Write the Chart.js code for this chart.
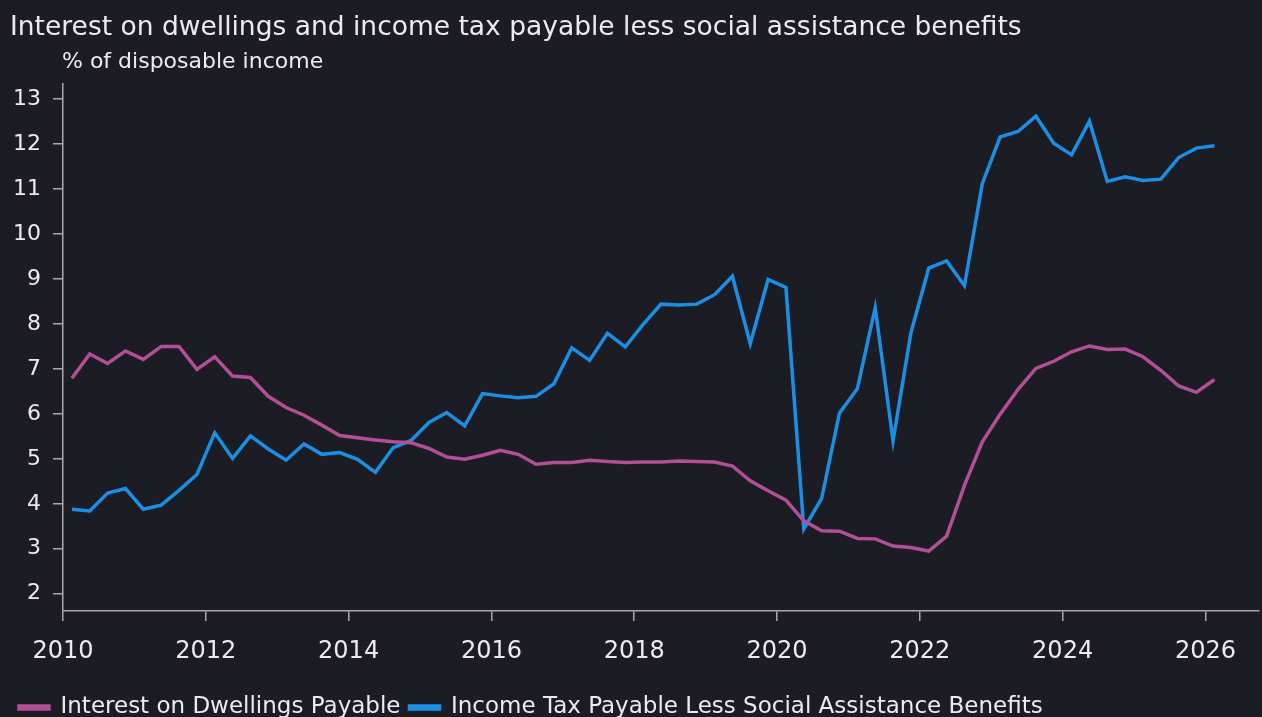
<!DOCTYPE html>
<html>
<head>
<meta charset="utf-8">
<script src="https://cdn.jsdelivr.net/npm/chart.js@4/dist/chart.umd.min.js"></script>
<style>
  html, body { margin: 0; padding: 0; background: #1c1c25; overflow: hidden; }
  #wrap { width: 1262px; height: 717px; overflow: hidden; }
</style>
</head>
<body>
<div id="wrap"><canvas id="chart" width="1262" height="729"></canvas></div>
<script>
// quarterly, 2010 Q1 .. 2026 Q1
const firstYear = 2010;
const quarterCount = 65;

const interestOnDwellings = [
  6.79, 7.33, 7.12, 7.40, 7.21, 7.50, 7.50, 6.99, 7.27, 6.84,
  6.81, 6.39, 6.14, 5.97, 5.75, 5.52, 5.47, 5.42, 5.38, 5.36,
  5.23, 5.04, 4.99, 5.08, 5.19, 5.10, 4.88, 4.92, 4.92, 4.97,
  4.94, 4.92, 4.93, 4.93, 4.95, 4.94, 4.93, 4.84, 4.51, 4.29,
  4.08, 3.62, 3.40, 3.39, 3.23, 3.22, 3.06, 3.03, 2.95, 3.28,
  4.41, 5.38, 5.99, 6.54, 7.01, 7.17, 7.38, 7.51, 7.43, 7.44,
  7.27, 6.97, 6.62, 6.48, 6.76
];

const incomeTaxLessBenefits = [
  3.88, 3.84, 4.24, 4.34, 3.88, 3.97, 4.30, 4.65, 5.58, 5.01,
  5.51, 5.22, 4.97, 5.33, 5.10, 5.14, 4.99, 4.70, 5.25, 5.41,
  5.81, 6.03, 5.73, 6.45, 6.40, 6.36, 6.39, 6.67, 7.47, 7.19,
  7.79, 7.49, 7.99, 8.44, 8.42, 8.44, 8.65, 9.06, 7.56, 8.99,
  8.81, 3.44, 4.12, 6.02, 6.56, 8.36, 5.40, 7.80, 9.24, 9.40,
  8.85, 11.12, 12.16, 12.28, 12.62, 12.02, 11.76, 12.51, 11.17, 11.27,
  11.19, 11.22, 11.70, 11.91, 11.96
];

const xTicks = [2010, 2012, 2014, 2016, 2018, 2020, 2022, 2024, 2026];
const yTicks = [2, 3, 4, 5, 6, 7, 8, 9, 10, 11, 12, 13];

// quarter labels -> mid-quarter decimal year
const quarters = [];
for (let i = 0; i < quarterCount; i++) {
  quarters.push((firstYear + Math.floor(i / 4)) + 'Q' + (i % 4 + 1));
}
function quarterToYear(q) {
  const [y, n] = q.split('Q');
  return Number(y) + (Number(n) - 1) * 0.25 + 0.125;
}
const toPoints = vals => vals.map((v, i) => ({ x: quarterToYear(quarters[i]), y: v }));

const axisColor = '#a9a9ad';
const textColor = '#ececef';
const fontFamily = '"DejaVu Sans", sans-serif';

const subtitlePlugin = {
  id: 'unitLabel',
  afterDraw(chart) {
    const ctx = chart.ctx;
    ctx.save();
    ctx.font = '22px ' + fontFamily;
    ctx.fillStyle = textColor;
    ctx.textAlign = 'left';
    ctx.textBaseline = 'middle';
    ctx.fillText('% of disposable income', chart.chartArea.left - 1, 62);
    ctx.restore();
  }
};

new Chart(document.getElementById('chart').getContext('2d'), {
  type: 'line',
  data: {
    datasets: [
      {
        label: 'Interest on Dwellings Payable',
        data: toPoints(interestOnDwellings),
        borderColor: '#b24f96',
        backgroundColor: '#b24f96',
        borderWidth: 3.5,
        pointRadius: 0,
        tension: 0
      },
      {
        label: 'Income Tax Payable Less Social Assistance Benefits',
        data: toPoints(incomeTaxLessBenefits),
        borderColor: '#1b8fe3',
        backgroundColor: '#1b8fe3',
        borderWidth: 3.5,
        pointRadius: 0,
        tension: 0
      }
    ]
  },
  options: {
    responsive: false,
    animation: false,
    layout: { padding: { left: 10, right: 3, top: 0, bottom: 0 } },
    scales: {
      x: {
        type: 'linear',
        min: 2010,
        max: 2026.75,
        afterBuildTicks: s => { s.ticks = xTicks.map(v => ({ value: v })); },
        afterFit: s => { s.height = 76; },
        grid: { drawOnChartArea: false, drawTicks: true, tickLength: 10, color: axisColor, lineWidth: 1.5 },
        border: { color: axisColor, width: 1.5 },
        ticks: {
          color: textColor,
          padding: 16,
          maxRotation: 0,
          font: { family: fontFamily, size: 24 },
          callback: v => String(v)
        }
      },
      y: {
        min: 1.616,
        max: 13.34,
        afterBuildTicks: s => { s.ticks = yTicks.map(v => ({ value: v })); },
        afterFit: s => { s.width = 53; },
        grid: { drawOnChartArea: false, drawTicks: true, tickLength: 10, color: axisColor, lineWidth: 1.5 },
        border: { color: axisColor, width: 1.5 },
        ticks: {
          color: textColor,
          padding: 12,
          font: { family: fontFamily, size: 22 },
          callback: v => String(v)
        }
      }
    },
    plugins: {
      title: {
        display: true,
        text: 'Interest on dwellings and income tax payable less social assistance benefits',
        align: 'start',
        color: textColor,
        font: { family: fontFamily, size: 26.5, weight: 'normal' },
        padding: { top: 12, bottom: 40 }
      },
      legend: {
        position: 'bottom',
        align: 'start',
        labels: {
          color: textColor,
          boxWidth: 30,
          boxHeight: 3,
          padding: 9,
          font: { family: fontFamily, size: 23 }
        }
      },
      tooltip: { enabled: false }
    }
  },
  plugins: [subtitlePlugin]
});
</script>
</body>
</html>
